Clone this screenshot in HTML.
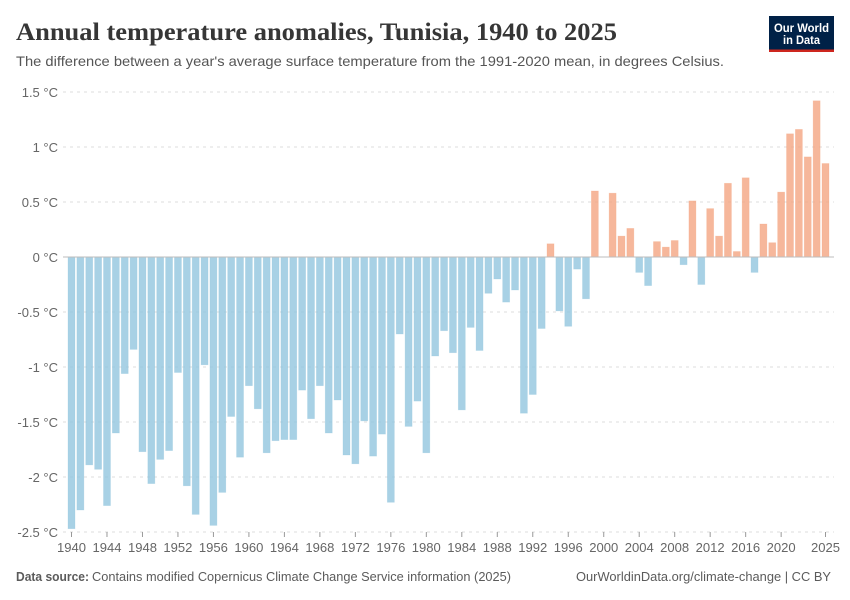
<!DOCTYPE html>
<html>
<head>
<meta charset="utf-8">
<title>Annual temperature anomalies, Tunisia, 1940 to 2025</title>
<style>
html,body{margin:0;padding:0;background:#fff;}
svg{display:block;}
text{font-family:"Liberation Sans",sans-serif;}
</style>
</head>
<body>
<svg id="chart" width="850" height="600" viewBox="0 0 850 600" xmlns="http://www.w3.org/2000/svg">
  <rect width="850" height="600" fill="#fff"/>
  <text x="16" y="40" font-size="25" font-weight="700" fill="#363636" textLength="601" lengthAdjust="spacingAndGlyphs" style="font-family:'Liberation Serif',serif">Annual temperature anomalies, Tunisia, 1940 to 2025</text>
  <text x="16" y="66" font-size="14" fill="#555" textLength="708" lengthAdjust="spacingAndGlyphs">The difference between a year's average surface temperature from the 1991-2020 mean, in degrees Celsius.</text>
  <g>
    <rect x="769" y="16" width="65" height="36" fill="#002147"/>
    <rect x="769" y="49.5" width="65" height="2.5" fill="#ce261e"/>
    <text x="801.5" y="32" font-size="12" font-weight="700" fill="#fff" text-anchor="middle" textLength="55" lengthAdjust="spacingAndGlyphs">Our World</text>
    <text x="801.5" y="44" font-size="12" font-weight="700" fill="#fff" text-anchor="middle" textLength="37" lengthAdjust="spacingAndGlyphs">in Data</text>
  </g>
  <g id="grid"></g>
  <g id="bars"></g>
  <g id="yaxis"></g>
  <g id="xaxis"></g>
  <text x="16" y="581" font-size="13" font-weight="700" fill="#5b5b5b" textLength="73" lengthAdjust="spacingAndGlyphs">Data source:</text>
  <text x="92" y="581" font-size="13" fill="#5b5b5b" textLength="419" lengthAdjust="spacingAndGlyphs">Contains modified Copernicus Climate Change Service information (2025)</text>
  <text x="576" y="581" font-size="13" fill="#5b5b5b" textLength="255" lengthAdjust="spacingAndGlyphs">OurWorldinData.org/climate-change | CC BY</text>
</svg>
<script>
const firstYear = 1940;
const anomalies = [
  -2.47,-2.30,-1.89,-1.93,-2.26,-1.60,-1.06,-0.84,-1.77,-2.06,
  -1.84,-1.76,-1.05,-2.08,-2.34,-0.98,-2.44,-2.14,-1.45,-1.82,
  -1.17,-1.38,-1.78,-1.67,-1.66,-1.66,-1.21,-1.47,-1.17,-1.60,
  -1.30,-1.80,-1.88,-1.49,-1.81,-1.61,-2.23,-0.70,-1.54,-1.31,
  -1.78,-0.90,-0.67,-0.87,-1.39,-0.64,-0.85,-0.33,-0.20,-0.41,
  -0.30,-1.42,-1.25,-0.65,0.12,-0.49,-0.63,-0.11,-0.38,0.60,
  0.00,0.58,0.19,0.26,-0.14,-0.26,0.14,0.09,0.15,-0.07,
  0.51,-0.25,0.44,0.19,0.67,0.05,0.72,-0.14,0.30,0.13,
  0.59,1.12,1.16,0.91,1.42,0.85
];
const yTicks = [1.5,1,0.5,0,-0.5,-1,-1.5,-2,-2.5];
const xTicks = [1940,1944,1948,1952,1956,1960,1964,1968,1972,1976,1980,1984,1988,1992,1996,2000,2004,2008,2012,2016,2020,2025];

const NS = 'http://www.w3.org/2000/svg';
const lastYear = firstYear + anomalies.length - 1;
function xScale(year){ return 71.5 + (year - 1940) * (825.5 - 71.5) / 85; }
function yScale(v){ return 257 - v * 110; }
function make(tag, attrs, parent){
  const el = document.createElementNS(NS, tag);
  for (const k in attrs) el.setAttribute(k, attrs[k]);
  parent.appendChild(el);
  return el;
}
const grid = document.getElementById('grid');
const bars = document.getElementById('bars');
const yaxis = document.getElementById('yaxis');
const xaxis = document.getElementById('xaxis');

yTicks.forEach(function(t){
  if (t !== 0) {
    const g = make('line', {x1:63, x2:834, y1:yScale(t), y2:yScale(t), stroke:'#dddddd', 'stroke-width':1, 'stroke-dasharray':'3,4'}, grid);
    
    
  }
  const lab = make('text', {x:58, y:yScale(t)+4.8, 'font-size':13, fill:'#666', 'text-anchor':'end'}, yaxis);
  
  
  lab.textContent = t + ' \u00B0C';
});

anomalies.forEach(function(v, i){
  const year = firstYear + i;
  const w = 7;
  const top = Math.min(yScale(v), yScale(0));
  const h = Math.abs(yScale(v) - yScale(0));
  const color = v > 0 ? '#f4a582' : '#92c5de';
  const r = make('rect', {x:xScale(year)-w/2, y:top, width:w, height:h, fill:color, 'fill-opacity':0.8, stroke:color, 'stroke-opacity':0.35, 'stroke-width':0.7}, bars);
  
  
});

const zero = make('line', {x1:63, x2:834, y1:yScale(0), y2:yScale(0), stroke:'#bdbdbd', 'stroke-width':1}, yaxis);



xTicks.forEach(function(year){
  const x = xScale(year);
  const tk = make('line', {x1:x, x2:x, y1:532, y2:537, stroke:'#999', 'stroke-width':1}, xaxis);
  
  
  const lab = make('text', {x:x, y:552, 'font-size':13, fill:'#666', 'text-anchor':'middle', textLength:29, lengthAdjust:'spacingAndGlyphs'}, xaxis);
  
  
  lab.textContent = String(year);
});
</script>
</body>
</html>
